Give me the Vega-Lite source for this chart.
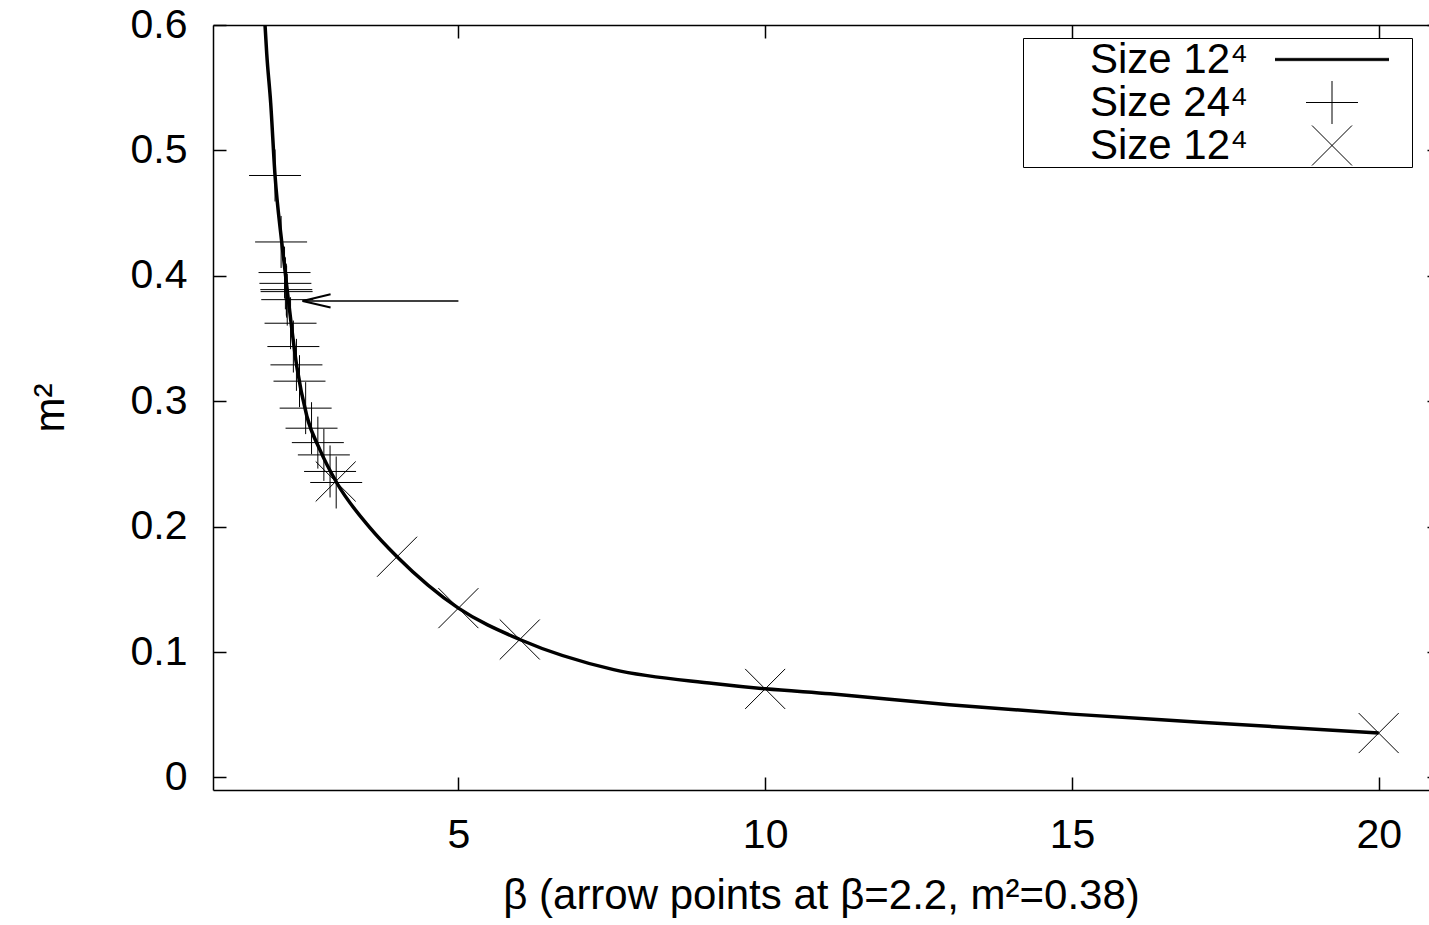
{
  "$schema": "https://vega.github.io/schema/vega-lite/v6.json",
  "width": 1216,
  "height": 765,
  "autosize": {"type": "none"},
  "padding": {"left": 213, "top": 25, "right": 0, "bottom": 135},
  "config": {
    "font": "Liberation Sans",
    "view": {"stroke": null},
    "axis": {
      "domainColor": "black", "domainWidth": 1.5,
      "tickColor": "black", "tickWidth": 1.5, "tickSize": -13,
      "labelColor": "black", "labelFontSize": 41, "labelFont": "Liberation Sans",
      "titleColor": "black", "titleFontSize": 42, "titleFontWeight": "normal", "titleFont": "Liberation Sans",
      "grid": false
    }
  },
  "datasets": {
    "curve": [
      {"beta": 1.848, "m2": 0.600},
      {"beta": 1.876, "m2": 0.577},
      {"beta": 1.94, "m2": 0.538},
      {"beta": 2.011, "m2": 0.480},
      {"beta": 2.12, "m2": 0.427},
      {"beta": 2.23, "m2": 0.380},
      {"beta": 2.365, "m2": 0.328},
      {"beta": 2.53, "m2": 0.288},
      {"beta": 2.745, "m2": 0.261},
      {"beta": 3.017, "m2": 0.235},
      {"beta": 3.56, "m2": 0.199},
      {"beta": 4.0, "m2": 0.176},
      {"beta": 5.0, "m2": 0.135},
      {"beta": 6.0, "m2": 0.110},
      {"beta": 7.53, "m2": 0.086},
      {"beta": 9.16, "m2": 0.075},
      {"beta": 10.0, "m2": 0.0707},
      {"beta": 11.06, "m2": 0.0667},
      {"beta": 13.0, "m2": 0.058},
      {"beta": 15.0, "m2": 0.0505},
      {"beta": 17.09, "m2": 0.0441},
      {"beta": 20.0, "m2": 0.0354}
    ],
    "points": [
      {"series": "b", "beta": 2.011, "m2": 0.480},
      {"series": "b", "beta": 2.11, "m2": 0.427},
      {"series": "b", "beta": 2.166, "m2": 0.4026},
      {"series": "b", "beta": 2.18, "m2": 0.394},
      {"series": "b", "beta": 2.195, "m2": 0.389},
      {"series": "b", "beta": 2.20, "m2": 0.3874},
      {"series": "b", "beta": 2.21, "m2": 0.381},
      {"series": "b", "beta": 2.264, "m2": 0.3622},
      {"series": "b", "beta": 2.31, "m2": 0.3436},
      {"series": "b", "beta": 2.36, "m2": 0.329},
      {"series": "b", "beta": 2.41, "m2": 0.316},
      {"series": "b", "beta": 2.51, "m2": 0.2945},
      {"series": "b", "beta": 2.606, "m2": 0.2785},
      {"series": "b", "beta": 2.709, "m2": 0.267},
      {"series": "b", "beta": 2.807, "m2": 0.2572},
      {"series": "b", "beta": 2.908, "m2": 0.244},
      {"series": "b", "beta": 3.008, "m2": 0.2352},
      {"series": "c", "beta": 3.0, "m2": 0.236},
      {"series": "c", "beta": 4.0, "m2": 0.176},
      {"series": "c", "beta": 5.0, "m2": 0.135},
      {"series": "c", "beta": 6.0, "m2": 0.110},
      {"series": "c", "beta": 10.0, "m2": 0.0706},
      {"series": "c", "beta": 20.0, "m2": 0.0354}
    ],
    "arrow": [
      {"from": 5.0, "to": 2.46, "level": 0.38}
    ]
  },
  "layer": [
    {
      "data": {"name": "curve"},
      "mark": {"type": "line", "color": "black", "strokeWidth": 3.5, "interpolate": "monotone", "clip": true},
      "encoding": {
        "x": {
          "field": "beta", "type": "quantitative",
          "scale": {"domain": [1, 20.82], "nice": false, "zero": false},
          "axis": {"orient": "bottom", "values": [5, 10, 15, 20], "labelPadding": 38, "title": "β (arrow points at β=2.2, m²=0.38)", "titlePadding": 20}
        },
        "y": {
          "field": "m2", "type": "quantitative",
          "scale": {"domain": [-0.01, 0.6], "nice": false, "zero": false},
          "axis": {"orient": "left", "values": [0, 0.1, 0.2, 0.3, 0.4, 0.5, 0.6], "format": ".1~f", "labelPadding": 39, "title": "m²", "titlePadding": 58}
        }
      }
    },
    {
      "data": {"name": "points"},
      "mark": {"type": "point", "filled": false, "stroke": "black", "strokeWidth": 1, "size": 12996, "opacity": 1},
      "encoding": {
        "x": {"field": "beta", "type": "quantitative", "axis": null},
        "y": {"field": "m2", "type": "quantitative", "axis": null},
        "shape": {
          "field": "series", "type": "nominal",
          "scale": {
            "domain": ["a", "b", "c"],
            "range": [
              "M-5.42,0M1.474,0M-1,-0.02L1,-0.02M-1,0L1,0M-1,0.02L1,0.02",
              "M-0.456,0L0.456,0M0,-0.456L0,0.456",
              "M-0.351,-0.351L0.351,0.351M-0.351,0.351L0.351,-0.351"
            ]
          },
          "legend": {
            "orient": "none", "legendX": 810, "legendY": 13,
            "title": null,
            "labelExpr": "(datum.value === 'b' ? 'Size 24⁴' : 'Size 12⁴') + '\u00a0\u00a0\u00a0\u00a0\u00a0\u00a0\u00a0\u00a0\u00a0\u00a0\u00a0\u00a0\u00a0\u00a0\u200b'",
            "labelFontSize": 42, "labelFont": "Liberation Sans", "labelColor": "black", "labelLimit": 600,
            "labelAlign": "right", "labelOffset": 22,
            "strokeColor": "black", "padding": 0,
            "clipHeight": 43, "rowPadding": 0,
            "symbolSize": 12996, "symbolOffset": 251.5,
            "symbolStrokeColor": "black", "symbolFillColor": "transparent", "symbolStrokeWidth": 1
          }
        }
      }
    },
    {
      "data": {"name": "arrow"},
      "mark": {"type": "rule", "color": "black", "strokeWidth": 1.5},
      "encoding": {
        "x": {"field": "from", "type": "quantitative", "axis": null},
        "x2": {"field": "to"},
        "y": {"field": "level", "type": "quantitative", "axis": null}
      }
    },
    {
      "data": {"name": "arrow"},
      "mark": {"type": "point", "shape": "M2,-0.47L0,0L2,0.47", "size": 784, "filled": false, "stroke": "black", "strokeWidth": 2, "opacity": 1},
      "encoding": {
        "x": {"field": "to", "type": "quantitative", "axis": null},
        "y": {"field": "level", "type": "quantitative", "axis": null}
      }
    },
    {
      "data": {"name": "curve"},
      "mark": {"type": "point", "opacity": 0, "size": 1},
      "encoding": {
        "x": {"field": "beta", "type": "quantitative", "axis": {"orient": "top", "values": [5, 10, 15, 20], "labels": false, "title": null}},
        "y": {"field": "m2", "type": "quantitative", "axis": {"orient": "right", "values": [0, 0.1, 0.2, 0.3, 0.4, 0.5, 0.6], "labels": false, "title": null, "offset": 11}}
      }
    }
  ],
  "resolve": {"axis": {"x": "independent", "y": "independent"}}
}
